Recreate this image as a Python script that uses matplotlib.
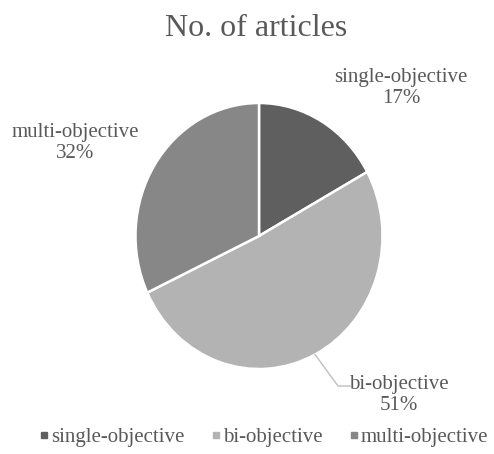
import matplotlib
matplotlib.use("Agg")
import matplotlib.pyplot as plt
import numpy as np
from matplotlib.lines import Line2D

plt.rcParams['font.family'] = ['Liberation Serif', 'DejaVu Serif']

categories = ['single-objective', 'bi-objective', 'multi-objective']
shares = [17, 51, 32]
colors = ['#5f5f5f', '#b3b3b3', '#878787']
text_col = '#595959'

W, H = 494, 454
fig = plt.figure(figsize=(W / 100, H / 100), dpi=100)

#pie is a bit taller than wide in the original
cx, cy, rx, ry = 259, 236, 123.5, 133
ax = fig.add_axes([(cx - rx) / W, (H - cy - ry) / H, 2 * rx / W, 2 * ry / H])

wedges, _ = ax.pie(shares, colors=colors, startangle=90, counterclock=False,
                   wedgeprops=dict(edgecolor='white', linewidth=1.8))
ax.set_xlim(-1, 1)
ax.set_ylim(-1, 1)
ax.set_aspect('auto')
ax.axis('off')

def to_data(px, py):
    return (px - cx) / rx, (cy - py) / ry

label_pos = [(401, 88), (399, 395), (75, 143)]
for name, val, (px, py) in zip(categories, shares, label_pos):
    x, y = to_data(px, py)
    ax.text(x, y, f'{name}\n{val}%', ha='center', va='center', fontsize=15,
            color=text_col, linespacing=1.2, clip_on=False)

#leader line for bi-objective
w = wedges[1]
mid = np.deg2rad((w.theta1 + w.theta2) / 2)
x0, y0 = np.cos(mid), np.sin(mid)
x1, y1 = to_data(338, 386)
x2, _ = to_data(350, 386)
ax.plot([x0, x1, x2], [y0, y1, y1], color='#bfbfbf', lw=1, clip_on=False)

fig.text(256 / W, 1 - 28 / H, 'No. of articles', ha='center', va='center',
         fontsize=23, color=text_col)

handles = [Line2D([], [], marker='s', linestyle='none', markersize=5,
                  markerfacecolor=c, markeredgecolor=c) for c in colors]
fig.legend(handles, categories, loc='center', bbox_to_anchor=(264 / W, 1 - 437 / H),
           ncol=3, frameon=False, fontsize=15, handlelength=0.4, handletextpad=0.15,
           columnspacing=1.3, labelcolor=text_col, borderpad=0, borderaxespad=0)

fig.savefig('out.png', dpi=100)
plt.close(fig)
